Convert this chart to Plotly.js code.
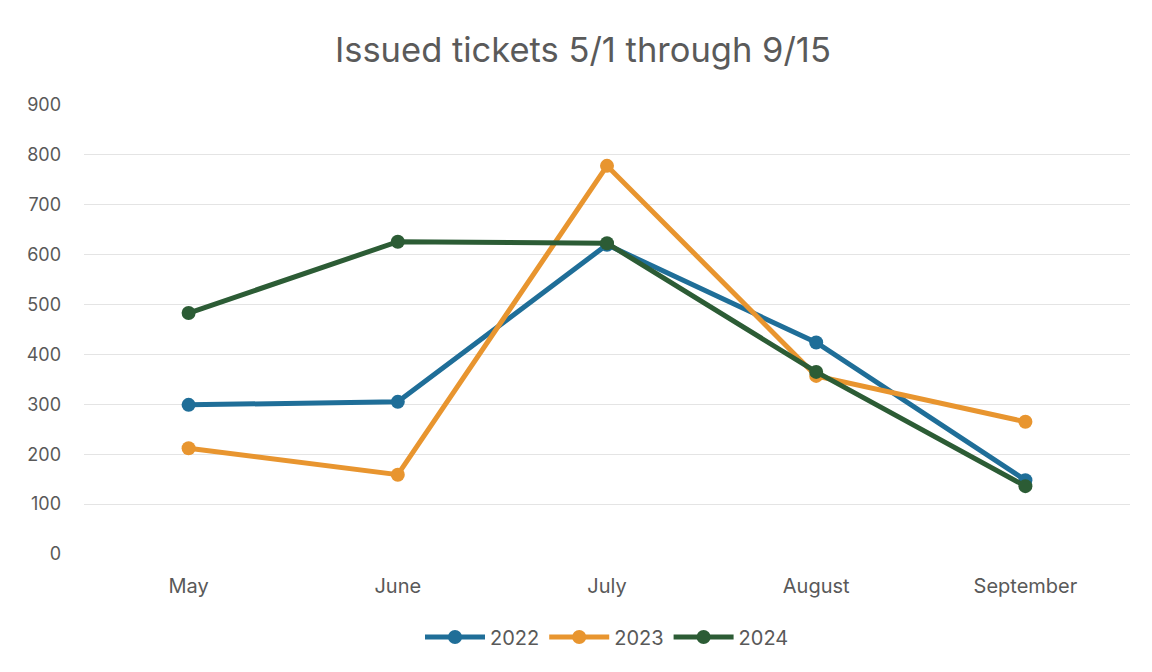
<!DOCTYPE html>
<html>
<head>
<meta charset="utf-8">
<script src="https://cdn.plot.ly/plotly-3.0.1.min.js"></script>
<style>html,body{margin:0;padding:0;background:#fff;}#chart{width:1152px;height:672px;}</style>
</head>
<body>
<div id="chart"></div>
<script>
const months = ["May", "June", "July", "August", "September"];
const tickets2022 = [299, 305, 620, 424, 148];
const tickets2023 = [212, 159, 778, 357, 265];
const tickets2024 = [483, 626, 623, 365, 136];
const seriesNames = ["2022", "2023", "2024"];
const seriesColors = ["#1f6e98", "#e8952f", "#2c5c35"];

const allSeries = [tickets2022, tickets2023, tickets2024];
const traces = allSeries.map((vals, i) => ({
  x: months, y: vals, name: seriesNames[i], type: "scatter", mode: "lines+markers",
  line: {color: seriesColors[i], width: 5},
  marker: {color: seriesColors[i], size: 14}
}));

const layout = {
  width: 1152, height: 672,
  paper_bgcolor: "#fff", plot_bgcolor: "#fff",
  font: {family: "Inter, 'Liberation Sans', sans-serif", color: "#595959"},
  margin: {l: 84, r: 22, t: 105, b: 118},
  title: {text: "Issued tickets 5/1 through 9/15", x: 0.506, xanchor: "center", y: 0.925, yanchor: "middle",
          font: {size: 34.5, color: "#5a5a5a"}},
  xaxis: {type: "category", range: [-0.5, 4.5], showgrid: false, zeroline: false, showline: false, ticks: "",
          tickfont: {size: 20, color: "#595959"}, ticklabelstandoff: 18},
  yaxis: {range: [0, 900], dtick: 100, showgrid: true, gridcolor: "#e4e4e4", gridwidth: 1,
          zeroline: false, showline: false, ticks: "", tickfont: {size: 18, color: "#595959"},
          ticklabelstandoff: 22},
  showlegend: true,
  legend: {orientation: "h", x: 0.5, xanchor: "center", y: -0.185, yanchor: "middle",
           font: {size: 20, color: "#595959"}, itemwidth: 60, traceorder: "normal"}
};

Plotly.newPlot("chart", traces, layout, {displayModeBar: false});
</script>
</body>
</html>
